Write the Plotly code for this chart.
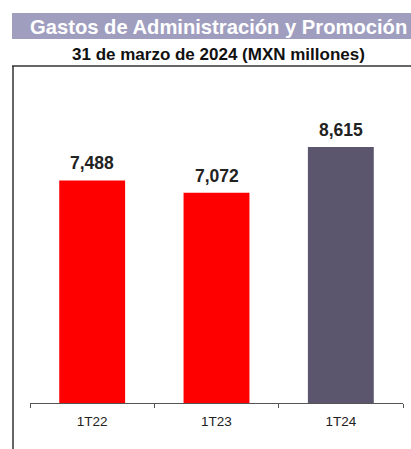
import plotly.graph_objects as go

categories = ["1T22", "1T23", "1T24"]
values = [7488, 7072, 8615]
bar_colors = ["#ff0000", "#ff0000", "#5b556e"]
title_text = "Gastos de Administración y Promoción"
subtitle_text = "31 de marzo de 2024 (MXN millones)"

W, H = 411, 449
ML, MR, MT, MB = 30, 8, 66, 46
PW, PH = W - ML - MR, H - MT - MB

def px(x):
    return (x - ML) / PW

def py(y):
    return 1 - (y - MT) / PH

FONT = "Liberation Sans, Arial, sans-serif"

fig = go.Figure(go.Bar(
    x=categories, y=values, marker_color=bar_colors,
    marker_line_width=0, hoverinfo="skip",
))

annotations = [
    dict(x=c, y=v, xref="x", yref="y", text=f"<b>{v:,}</b>", showarrow=False,
         yanchor="bottom", yshift=5, font=dict(family=FONT, size=17.5, color="#222222"))
    for c, v in zip(categories, values)
]
annotations.append(dict(x=px(28), y=py(26.5), xref="paper", yref="paper", text=f"<b>{title_text}</b>",
                        showarrow=False, xanchor="left", yanchor="middle",
                        font=dict(family=FONT, size=20.2, color="white")))
annotations.append(dict(x=px(218.5), y=py(54.5), xref="paper", yref="paper", text=f"<b>{subtitle_text}</b>",
                        showarrow=False, xanchor="center", yanchor="middle",
                        font=dict(family=FONT, size=17, color="#111111")))

shapes = [
    dict(type="rect", xref="paper", yref="paper", x0=px(12), x1=px(412), y0=py(39), y1=py(13),
         fillcolor="#a09ebf", line_width=0, layer="below"),
    dict(type="line", xref="paper", yref="paper", x0=px(12), x1=px(412), y0=py(66), y1=py(66),
         line=dict(color="#333333", width=1.5)),
    dict(type="line", xref="paper", yref="paper", x0=px(13), x1=px(13), y0=py(66), y1=py(450),
         line=dict(color="#333333", width=1.5)),
]

fig.update_layout(
    width=W, height=H,
    margin=dict(l=ML, r=MR, t=MT, b=MB),
    paper_bgcolor="white", plot_bgcolor="white",
    bargap=0.47, showlegend=False,
    annotations=annotations, shapes=shapes,
    font=dict(family=FONT),
)
fig.update_xaxes(showline=True, linecolor="#555555", linewidth=1, ticks="outside", tickson="boundaries",
                 ticklen=4, tickcolor="#555555", tickfont=dict(family=FONT, size=13.5, color="#222222"),
                 ticklabelstandoff=6,
                 showgrid=False, zeroline=False, fixedrange=True)
fig.update_yaxes(visible=False, range=[0, 11340], fixedrange=True)

fig.write_html("out.html", config={"displayModeBar": False},
               post_script="document.body.style.margin='0';document.body.style.overflow='hidden';")
